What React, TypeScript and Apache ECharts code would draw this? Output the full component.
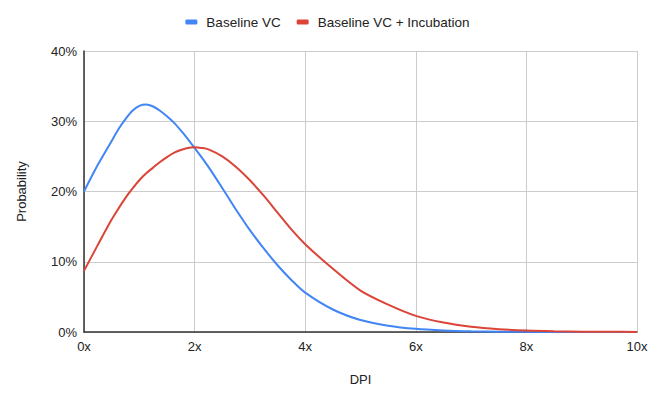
import React, { useEffect, useRef } from "react";
import * as echarts from "echarts";

const xValues = [0, 0.25, 0.5, 0.625, 0.75, 0.875, 1, 1.125, 1.25, 1.375, 1.5, 1.625, 1.75, 1.875, 2, 2.125, 2.25, 2.5, 2.75, 3, 3.25, 3.5, 3.75, 4, 4.5, 5, 5.5, 6, 6.5, 7, 7.5, 8, 8.5, 9, 9.5, 10];
const baselineVC = [20.0, 23.8, 27.2, 28.9, 30.3, 31.5, 32.2, 32.4, 32.1, 31.5, 30.7, 29.8, 28.7, 27.5, 26.2, 24.9, 23.5, 20.5, 17.4, 14.5, 11.9, 9.5, 7.4, 5.6, 3.2, 1.7, 0.9, 0.45, 0.22, 0.1, 0.05, 0.02, 0.01, 0.005, 0.003, 0.002];
const baselineIncubation = [8.7, 12.4, 16.0, 17.6, 19.1, 20.4, 21.6, 22.6, 23.4, 24.2, 24.9, 25.5, 25.9, 26.2, 26.3, 26.2, 26.0, 25.0, 23.5, 21.6, 19.4, 17.0, 14.6, 12.5, 9.0, 5.9, 3.9, 2.3, 1.35, 0.75, 0.4, 0.2, 0.1, 0.05, 0.03, 0.01];
const seriesNames = ["Baseline VC", "Baseline VC + Incubation"];
const colors = ["#4285F4", "#DB4437"];

export default function App() {
  const ref = useRef<HTMLDivElement>(null);
  useEffect(() => {
    if (!ref.current) return;
    const chart = echarts.init(ref.current, null, { renderer: "svg" });
    const font = "Liberation Sans, Arial, sans-serif";
    chart.setOption({
      animation: false,
      textStyle: { fontFamily: font },
      legend: {
        top: 10,
        left: "center",
        itemWidth: 12,
        itemHeight: 5,
        itemGap: 16,
        icon: "roundRect",
        textStyle: { fontSize: 13.5, color: "#222", fontFamily: font, padding: [0, 0, 0, 4] },
        data: seriesNames,
      },
      grid: { left: 84, right: 18, top: 51, bottom: 67 },
      xAxis: {
        type: "value",
        min: 0,
        max: 10,
        interval: 2,
        name: "DPI",
        nameLocation: "middle",
        nameGap: 41,
        nameTextStyle: { fontSize: 13, color: "#222", fontFamily: font },
        axisLine: { show: true, lineStyle: { color: "#333", width: 1.5 } },
        axisTick: { show: false },
        axisLabel: { formatter: (v: number) => v + "x", fontSize: 13, color: "#222", margin: 8, fontFamily: font },
        splitLine: { show: true, lineStyle: { color: "#ccc", width: 1 } },
      },
      yAxis: {
        type: "value",
        min: 0,
        max: 40,
        interval: 10,
        name: "Probability",
        nameLocation: "middle",
        nameGap: 56,
        nameTextStyle: { fontSize: 13, color: "#222", fontFamily: font },
        axisLine: { show: true, lineStyle: { color: "#333", width: 1.5 } },
        axisTick: { show: false },
        axisLabel: { formatter: (v: number) => v + "%", fontSize: 13, color: "#222", margin: 7, fontFamily: font },
        splitLine: { show: true, lineStyle: { color: "#ccc", width: 1 } },
      },
      series: [
        {
          name: seriesNames[0],
          type: "line",
          smooth: 0.3,
          showSymbol: false,
          symbol: "none",
          lineStyle: { color: colors[0], width: 2 },
          itemStyle: { color: colors[0] },
          data: xValues.map((x, i) => [x, baselineVC[i]]),
        },
        {
          name: seriesNames[1],
          type: "line",
          smooth: 0.3,
          showSymbol: false,
          symbol: "none",
          lineStyle: { color: colors[1], width: 2 },
          itemStyle: { color: colors[1] },
          data: xValues.map((x, i) => [x, baselineIncubation[i]]),
        },
      ],
    });
    return () => chart.dispose();
  }, []);
  return (
    <div
      ref={ref}
      style={{ position: "absolute", left: 0, top: 0, width: 655, height: 399, background: "#fff" }}
    />
  );
}
